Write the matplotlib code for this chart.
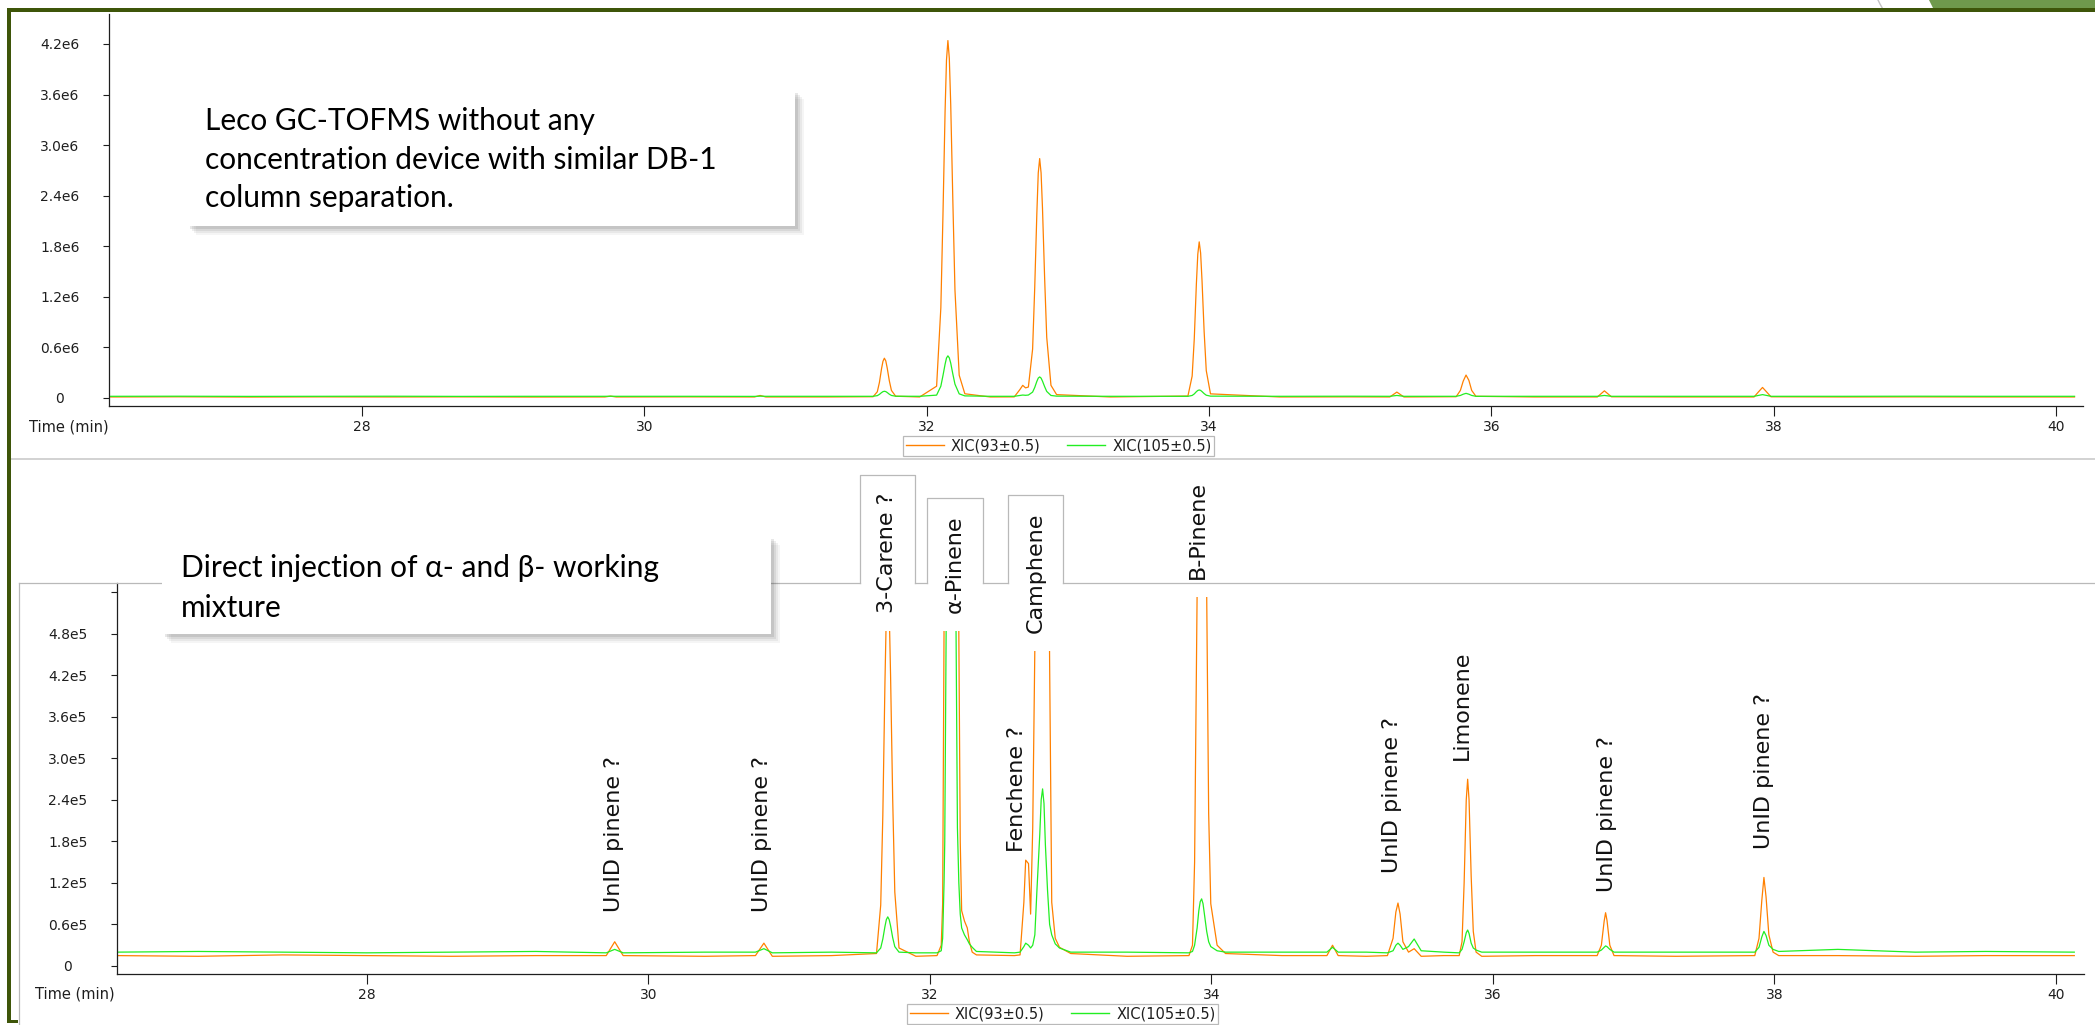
import matplotlib
matplotlib.use("Agg")
import matplotlib.pyplot as plt
from matplotlib.lines import Line2D
from matplotlib.patches import Rectangle, Polygon

# ---- upper run: Leco GC-TOFMS (intensity in units of 1e6) ----
top_time = [26.22, 26.70, 27.20, 27.70, 28.20, 28.70, 29.20, 29.72, 29.76, 29.80,
            30.30, 30.78, 30.82, 30.86, 31.30,
            31.62, 31.65, 31.665, 31.68, 31.69, 31.70, 31.71, 31.72, 31.735, 31.75, 31.78,
            31.95, 32.07, 32.10, 32.115, 32.13, 32.14, 32.15, 32.16, 32.17, 32.185, 32.20,
            32.23, 32.27, 32.45,
            32.62, 32.66, 32.68, 32.70, 32.72, 32.75, 32.765, 32.78, 32.79, 32.80, 32.81,
            32.82, 32.835, 32.85, 32.88, 32.92, 33.30,
            33.85, 33.88, 33.895, 33.91, 33.92, 33.93, 33.94, 33.95, 33.965, 33.98, 34.01,
            34.50, 35.00, 35.28, 35.33, 35.38,
            35.75, 35.78, 35.80, 35.82, 35.84, 35.86, 35.89, 36.30, 36.75, 36.80, 36.85,
            37.30, 37.86, 37.89, 37.92, 37.95, 37.98, 38.50, 39.00, 39.50, 40.13]
top_xic93 = [0.012, 0.014, 0.011, 0.013, 0.012, 0.013, 0.011, 0.012, 0.022, 0.012,
             0.013, 0.012, 0.030, 0.012, 0.012,
             0.015, 0.074, 0.185, 0.348, 0.435, 0.472, 0.440, 0.357, 0.205, 0.090, 0.021,
             0.012, 0.14, 1.07, 2.17, 3.40, 4.01, 4.24, 4.03, 3.48, 2.34, 1.28,
             0.27, 0.05, 0.012,
             0.013, 0.10, 0.15, 0.12, 0.13, 0.58, 1.31, 2.19, 2.67, 2.84, 2.67,
             2.25, 1.43, 0.72, 0.15, 0.04, 0.012,
             0.023, 0.26, 0.70, 1.355, 1.705, 1.852, 1.72, 1.39, 0.785, 0.325, 0.049,
             0.012, 0.013, 0.012, 0.07, 0.012,
             0.015, 0.09, 0.20, 0.272, 0.21, 0.09, 0.02, 0.012, 0.012, 0.085, 0.014,
             0.012, 0.012, 0.07, 0.125, 0.07, 0.014, 0.012, 0.013, 0.012, 0.012]
top_xic105 = [0.020, 0.021, 0.019, 0.020, 0.021, 0.019, 0.020, 0.020, 0.021, 0.020,
              0.020, 0.019, 0.022, 0.020, 0.020,
              0.020, 0.028, 0.043, 0.064, 0.075, 0.080, 0.076, 0.065, 0.045, 0.030, 0.021,
              0.020, 0.034, 0.14, 0.265, 0.40, 0.474, 0.50, 0.476, 0.414, 0.284, 0.164,
              0.049, 0.025, 0.020,
              0.020, 0.030, 0.035, 0.032, 0.035, 0.07, 0.125, 0.197, 0.236, 0.25, 0.236,
              0.20, 0.135, 0.078, 0.03, 0.022, 0.020,
              0.020, 0.030, 0.048, 0.075, 0.089, 0.095, 0.090, 0.076, 0.052, 0.033, 0.022,
              0.020, 0.021, 0.020, 0.030, 0.020,
              0.020, 0.030, 0.045, 0.055, 0.045, 0.030, 0.020, 0.020, 0.020, 0.030, 0.020,
              0.020, 0.020, 0.030, 0.040, 0.030, 0.020, 0.020, 0.021, 0.020, 0.020]
top_yticks = [0, 0.6, 1.2, 1.8, 2.4, 3.0, 3.6, 4.2]
top_yticklabels = ["0", "0.6e6", "1.2e6", "1.8e6", "2.4e6", "3.0e6", "3.6e6", "4.2e6"]

# ---- lower run: direct injection (intensity in units of 1e5) ----
bot_time = [26.22, 26.80, 27.40, 28.00, 28.60, 29.20, 29.70, 29.76, 29.82, 30.40,
            30.76, 30.82, 30.88, 31.30,
            31.62, 31.65, 31.665, 31.68, 31.69, 31.70, 31.71, 31.72, 31.735, 31.75, 31.78,
            31.90, 32.05, 32.08, 32.09, 32.10, 32.105, 32.115, 32.13, 32.14, 32.15, 32.16,
            32.17, 32.185, 32.195, 32.205, 32.215, 32.225, 32.245, 32.265, 32.28, 32.30, 32.33,
            32.60, 32.64, 32.667, 32.68, 32.70, 32.715, 32.73, 32.745, 32.76, 32.78, 32.79,
            32.80, 32.81, 32.82, 32.835, 32.85, 32.865, 32.89, 32.92, 33.00, 33.40,
            33.84, 33.865, 33.88, 33.898, 33.91, 33.92, 33.93, 33.94, 33.95, 33.966, 33.98,
            33.995, 34.04, 34.10, 34.50, 34.82, 34.86, 34.90, 35.10,
            35.25, 35.29, 35.31, 35.325, 35.34, 35.36, 35.40, 35.44, 35.49, 35.65,
            35.76, 35.78, 35.795, 35.81, 35.82, 35.83, 35.845, 35.86, 35.88, 35.92, 36.30,
            36.74, 36.77, 36.79, 36.80, 36.81, 36.83, 36.86, 37.30,
            37.86, 37.89, 37.91, 37.925, 37.94, 37.96, 37.99, 38.03, 38.45, 39.00, 39.50, 40.13]
bot_xic93 = [0.15, 0.14, 0.16, 0.15, 0.14, 0.15, 0.15, 0.35, 0.15, 0.14,
             0.15, 0.33, 0.14, 0.15,
             0.18, 0.88, 2.18, 4.09, 5.12, 5.55, 5.17, 4.20, 2.42, 1.07, 0.26,
             0.14, 0.15, 0.30, 0.90, 4.90, 7.50, 10.5, 16.5, 19.2, 20.0, 19.2,
             16.5, 11.0, 7.8, 4.9, 1.8, 0.8, 0.65, 0.55, 0.35, 0.20, 0.16,
             0.15, 0.16, 0.92, 1.53, 1.48, 0.75, 2.0, 4.6, 8.0, 12.8, 14.5,
             15.0, 14.5, 12.8, 8.5, 4.4, 0.92, 0.40, 0.27, 0.18, 0.14,
             0.15, 0.30, 1.50, 5.40, 8.50, 10.8, 11.8, 11.0, 9.0, 5.4, 2.2,
             0.9, 0.30, 0.18, 0.15, 0.15, 0.30, 0.15, 0.14,
             0.15, 0.40, 0.78, 0.91, 0.75, 0.35, 0.20, 0.25, 0.14, 0.15,
             0.15, 0.35, 1.20, 2.40, 2.70, 2.40, 1.30, 0.50, 0.20, 0.14, 0.15,
             0.15, 0.30, 0.65, 0.77, 0.66, 0.30, 0.15, 0.14,
             0.15, 0.40, 0.95, 1.28, 1.00, 0.45, 0.20, 0.15, 0.15, 0.14, 0.15, 0.15]
bot_xic105 = [0.20, 0.21, 0.20, 0.19, 0.20, 0.21, 0.19, 0.24, 0.19, 0.20,
              0.20, 0.25, 0.19, 0.20,
              0.19, 0.26, 0.39, 0.57, 0.67, 0.71, 0.67, 0.58, 0.41, 0.28, 0.20,
              0.19, 0.19, 0.22, 0.40, 1.20, 1.80, 4.90, 7.00, 7.90, 8.20, 7.90,
              6.80, 4.90, 2.00, 1.20, 0.75, 0.55, 0.45, 0.38, 0.32, 0.27, 0.21,
              0.19, 0.20, 0.28, 0.33, 0.30, 0.26, 0.30, 0.45, 1.10, 1.90, 2.40,
              2.56, 2.35, 1.75, 1.10, 0.60, 0.45, 0.32, 0.26, 0.20, 0.20,
              0.19, 0.21, 0.30, 0.55, 0.80, 0.93, 0.97, 0.90, 0.75, 0.50, 0.35,
              0.28, 0.22, 0.20, 0.20, 0.20, 0.27, 0.20, 0.20,
              0.19, 0.22, 0.30, 0.33, 0.30, 0.24, 0.28, 0.39, 0.22, 0.20,
              0.19, 0.24, 0.35, 0.48, 0.52, 0.47, 0.33, 0.26, 0.23, 0.20, 0.20,
              0.20, 0.23, 0.27, 0.29, 0.28, 0.24, 0.20, 0.20,
              0.20, 0.27, 0.42, 0.50, 0.44, 0.30, 0.24, 0.21, 0.24, 0.20, 0.21, 0.20]
bot_yticks = [0, 0.6, 1.2, 1.8, 2.4, 3.0, 3.6, 4.2, 4.8, 5.4]
bot_yticklabels = ["0", "0.6e5", "1.2e5", "1.8e5", "2.4e5", "3.0e5", "3.6e5", "4.2e5", "4.8e5", ""]

x_ticks = [28, 30, 32, 34, 36, 38, 40]
series_names = ["XIC(93\u00b10.5)", "XIC(105\u00b10.5)"]

# peak annotations on the lower run (time in min, foot of the label in 1e5)
peak_names = ["UnID pinene ?", "UnID pinene ?", "3-Carene ?", "\u03b1-Pinene", "Fenchene ?",
              "Camphene", "B-Pinene", "UnID pinene ?", "Limonene", "UnID pinene ?",
              "UnID pinene ?"]
peak_time = [29.755, 30.81, 31.698, 32.178, 32.62, 32.75, 33.90, 35.28, 35.78, 36.81, 37.925]
peak_label_y = [0.78, 0.78, 5.10, 5.10, 1.65, 4.81, 5.59, 1.34, 2.98, 1.07, 1.69]
peak_masks = [False, False, True, True, False, True, True, False, False, False, False]
peak_tabs = [False, False, True, True, False, True, False, False, False, False, False]

orange = "#ff8000"
green = "#22ee22"
panel_grey = "#b9b9b9"
frame_green = "#3e5509"
ink = "#1e1e1e"

W, H = 2095, 1025


def fig_rect(l, t, r, b):
    return [l / W, 1 - b / H, (r - l) / W, (b - t) / H]


def style_axes(ax, xlim, ylim, yticks, yticklabels):
    ax.set_xlim(*xlim)
    ax.set_ylim(*ylim)
    for side in ["top", "right"]:
        ax.spines[side].set_visible(False)
    for side in ["left", "bottom"]:
        ax.spines[side].set_color(ink)
        ax.spines[side].set_linewidth(0.9)
    ax.patch.set_visible(False)
    ax.set_xticks(x_ticks)
    ax.set_xticklabels([str(t) for t in x_ticks])
    ax.set_yticks(yticks)
    ax.set_yticklabels(yticklabels)
    ax.tick_params(axis="y", direction="out", length=4.5, width=0.8, pad=31,
                   labelsize=10, colors=ink)
    ax.tick_params(axis="x", direction="out", length=7.5, width=0.8, pad=2.5,
                   labelsize=10, colors=ink)
    for lbl in ax.get_yticklabels():
        lbl.set_horizontalalignment("center")


fig = plt.figure(figsize=(W / 100, H / 100), dpi=100)
fig.patch.set_facecolor("white")

# ---------------- upper chromatogram ----------------
ax1 = fig.add_axes(fig_rect(109, 14, 2083, 406))
ax1.plot(top_time, top_xic93, color=orange, lw=0.9)
ax1.plot(top_time, top_xic105, color=green, lw=0.9)
style_axes(ax1, (26.208, 40.19), (-0.095, 4.555), top_yticks, top_yticklabels)
fig.text(109 / W, 1 - 427 / H, "Time (min)", ha="right", va="center", fontsize=10.5, color=ink)

# ---------------- lower chromatogram ----------------
ax2 = fig.add_axes(fig_rect(117, 583, 2084, 974))
ax2.plot(bot_time, bot_xic93, color=orange, lw=0.9)
ax2.plot(bot_time, bot_xic105, color=green, lw=0.9)
style_axes(ax2, (26.224, 40.199), (-0.116, 5.537), bot_yticks, bot_yticklabels)
fig.text(115 / W, 1 - 994 / H, "Time (min)", ha="right", va="center", fontsize=10.5, color=ink)

tab_texts = []
for name, t, y, masked, tab in zip(peak_names, peak_time, peak_label_y, peak_masks, peak_tabs):
    kw = {}
    if masked:
        kw["bbox"] = dict(boxstyle="square,pad=0.8", fc="white", ec="none")
    txt = ax2.text(t, y, name, rotation=90, ha="center", va="bottom", fontsize=16,
                   color="#111111", clip_on=False, zorder=4, **kw)
    if tab:
        tab_texts.append(txt)

# legends under each chart
handles = [Line2D([], [], color=orange, lw=1), Line2D([], [], color=green, lw=1)]
for cx, cy in [(1058.5, 446), (1062.5, 1014)]:
    leg = fig.legend(handles, series_names, loc="center", bbox_to_anchor=(cx / W, 1 - cy / H),
                     ncol=2, fontsize=10.5, frameon=True, fancybox=False, edgecolor="#a8a8a8",
                     borderpad=0.2, handlelength=2.6, handletextpad=0.5, columnspacing=1.8,
                     borderaxespad=0)
    leg.get_frame().set_linewidth(0.9)
    for tx in leg.get_texts():
        tx.set_color(ink)

# ---------------- slide decoration ----------------
fig.add_artist(Line2D([11 / W, 1], [1 - 459 / H, 1 - 459 / H], transform=fig.transFigure,
                      color="#c6c6c6", lw=1.1, zorder=5))
fig.add_artist(Line2D([19 / W, 19 / W], [1 - 583 / H, 0], transform=fig.transFigure,
                      color=panel_grey, lw=0.9, zorder=5))
fig.add_artist(Rectangle((7 / W, 1 - 11.5 / H), 1, 3.5 / H, transform=fig.transFigure,
                         color=frame_green, lw=0, zorder=12))
fig.add_artist(Rectangle((7 / W, 1 - 1023 / H), 3.7 / W, 1015 / H, transform=fig.transFigure,
                         color=frame_green, lw=0, zorder=12))
fig.add_artist(Rectangle((7 / W, 1 - 1023 / H), 11 / W, 3 / H, transform=fig.transFigure,
                         color=frame_green, lw=0, zorder=12))
fig.add_artist(Polygon([(1929 / W, 1), (1, 1), (1, 1 - 7.5 / H), (1933 / W, 1 - 7.5 / H)],
                       closed=True, transform=fig.transFigure, color="#6f994c", lw=0, zorder=11))
fig.add_artist(Line2D([1878 / W, 1880 / W, 1882 / W], [1, 1 - 4 / H, 1 - 7.5 / H],
                      transform=fig.transFigure, color="#c4c4c4", lw=1, zorder=11))


def note_box(l, t, r, b):
    for off, a in [(9, 0.05), (7, 0.07), (5, 0.09), (3, 0.12)]:
        fig.add_artist(Rectangle(((l + off) / W, 1 - (b + off) / H), (r - l) / W, (b - t) / H,
                                 transform=fig.transFigure, color="#404040", alpha=a, lw=0,
                                 zorder=7))
    fig.add_artist(Rectangle((l / W, 1 - b / H), (r - l) / W, (b - t) / H,
                             transform=fig.transFigure, color="white", lw=0, zorder=8))


note_font = ["Lato", "DejaVu Sans"]
note_box(187, 90, 795, 226)
for line, base in zip(["Leco GC-TOFMS without any", "concentration device with similar DB-1",
                       "column separation."], [130, 169, 207]):
    fig.text(205 / W, 1 - base / H, line, ha="left", va="baseline", fontsize=21.5,
             family=note_font, color="black", zorder=9)

note_box(162, 536, 771, 634)
for line, base in zip(["Direct injection of \u03b1- and \u03b2- working", "mixture"], [577, 617]):
    fig.text(181 / W, 1 - base / H, line, ha="left", va="baseline", fontsize=21.5,
             family=note_font, color="black", zorder=9)

# label tabs poking above the lower panel, and the panel's top border around them
fig.canvas.draw()
renderer = fig.canvas.get_renderer()
panel_y = ax2.get_position().y1
gaps = []
for txt in tab_texts:
    bb = txt.get_bbox_patch().get_window_extent(renderer)
    gaps.append((bb.x0 / W, bb.x1 / W))
    fig.add_artist(Line2D([bb.x0 / W, bb.x0 / W, bb.x1 / W, bb.x1 / W],
                          [panel_y, bb.y1 / H, bb.y1 / H, panel_y], transform=fig.transFigure,
                          color=panel_grey, lw=0.9, zorder=5))
start = 19 / W
for g0, g1 in sorted(gaps) + [(1.0, 1.0)]:
    fig.add_artist(Line2D([start, g0], [panel_y, panel_y], transform=fig.transFigure,
                          color=panel_grey, lw=0.9, zorder=5))
    start = g1

fig.savefig("out.png", dpi=100, facecolor="white")
